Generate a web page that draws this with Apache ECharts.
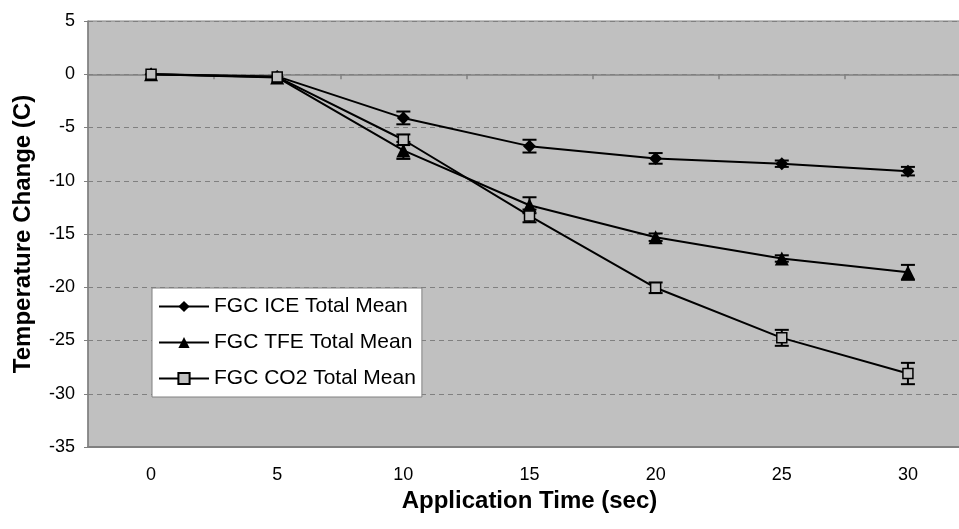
<!DOCTYPE html>
<html><head><meta charset="utf-8">
<script src="https://cdn.jsdelivr.net/npm/echarts@6/dist/echarts.min.js"></script>
<style>html,body{margin:0;padding:0;background:#fff}#c{width:959px;height:529px}</style>
</head><body><div id="c"></div>
<script>
var categories = ['0','5','10','15','20','25','30'];
var yTicks = [5,0,-5,-10,-15,-20,-25,-30,-35];
var iceMean = [0, -0.2, -4.1, -6.75, -7.9, -8.4, -9.1];
var iceErr  = [0, 0.1, 0.6, 0.6, 0.5, 0.3, 0.4];
var tfeMean = [0, -0.3, -7.15, -12.3, -15.3, -17.3, -18.6];
var tfeErr  = [0, 0.1, 0.8, 0.75, 0.35, 0.3, 0.7];
var co2Mean = [0, -0.25, -6.15, -13.3, -20.05, -24.75, -28.1];
var co2Err  = [0, 0.1, 0.5, 0.6, 0.5, 0.75, 1.0];
var names = ['FGC ICE Total Mean','FGC TFE Total Mean','FGC CO2 Total Mean'];

var FONT = '"Liberation Sans", Arial, sans-serif';
var chart = echarts.init(document.getElementById('c'), null, {renderer:'canvas'});

function errSeries(mean, err){
  var data = mean.map(function(m,i){ return [i, m - err[i], m + err[i]]; });
  return {
    type:'custom', xAxisIndex:0, yAxisIndex:0, z:5, silent:true,
    data:data,
    renderItem:function(params, api){
      var x = api.value(0);
      var lo = api.coord([x, api.value(1)]);
      var hi = api.coord([x, api.value(2)]);
      if (Math.abs(hi[1]-lo[1]) < 3) return {type:'group', children:[]};
      var w = 7;
      var st = {stroke:'#000', lineWidth:2};
      return {type:'group', children:[
        {type:'line', shape:{x1:lo[0],y1:lo[1],x2:hi[0],y2:hi[1]}, style:st},
        {type:'line', shape:{x1:lo[0]-w,y1:lo[1],x2:lo[0]+w,y2:lo[1]}, style:st},
        {type:'line', shape:{x1:hi[0]-w,y1:hi[1],x2:hi[0]+w,y2:hi[1]}, style:st}
      ]};
    }
  };
}

var option = {
  animation:false,
  backgroundColor:'#fff',
  grid:{left:88, top:21, width:883, height:426, outerBoundsMode:'none', containLabel:false,
        show:true, backgroundColor:'#c0c0c0', borderColor:'#808080', borderWidth:1},
  legend:{
    orient:'vertical', left:152, top:288, data:names,
    backgroundColor:'#fff', borderColor:'#808080', borderWidth:1,
    padding:[8, 6, 8, 6], itemWidth:50, itemHeight:14, itemGap:15,
    textStyle:{fontFamily:FONT, fontSize:21, color:'#000'}
  },
  xAxis:[{
    type:'category', data:categories, position:'bottom', boundaryGap:true,
    axisLine:{show:true, onZero:false, lineStyle:{color:'#808080', width:2}},
    axisTick:{show:false},
    axisLabel:{fontFamily:FONT, fontSize:18, color:'#000', margin:19},
    name:'Application Time (sec)', nameLocation:'middle', nameGap:41,
    nameTextStyle:{fontFamily:FONT, fontSize:24, fontWeight:'bold', color:'#000'}
  },{
    type:'category', data:categories, position:'bottom', boundaryGap:true,
    axisLine:{show:true, onZero:true, lineStyle:{color:'#808080', width:1.5}},
    axisTick:{show:true, inside:false, length:5, lineStyle:{color:'#808080', width:1.5}},
    axisLabel:{show:false}
  }],
  yAxis:{
    type:'value', min:-35, max:5, interval:5,
    axisLine:{show:true, lineStyle:{color:'#808080', width:1.5}},
    axisTick:{show:true, length:4, lineStyle:{color:'#808080'}},
    axisLabel:{fontFamily:FONT, fontSize:18, color:'#000', margin:13},
    splitLine:{show:true, lineStyle:{color:'#808080', type:[5,4], width:1}},
    name:'Temperature Change (C)', nameLocation:'middle', nameGap:53,
    nameTextStyle:{fontFamily:FONT, fontSize:24, fontWeight:'bold', color:'#000'}
  },
  series:[
    {name:names[0], type:'line', data:iceMean, symbol:'diamond', symbolSize:13, z:10,
     lineStyle:{color:'#000', width:2}, itemStyle:{color:'#000'}},
    {name:names[1], type:'line', data:tfeMean, symbol:'triangle', symbolSize:14, z:10,
     lineStyle:{color:'#000', width:2}, itemStyle:{color:'#000'}},
    {name:names[2], type:'line', data:co2Mean, symbol:'rect', symbolSize:10, z:10,
     lineStyle:{color:'#000', width:2}, itemStyle:{color:'#c0c0c0', borderColor:'#000', borderWidth:1.5}},
    errSeries(iceMean, iceErr),
    errSeries(tfeMean, tfeErr),
    errSeries(co2Mean, co2Err)
  ]
};
chart.setOption(option);
</script></body></html>
